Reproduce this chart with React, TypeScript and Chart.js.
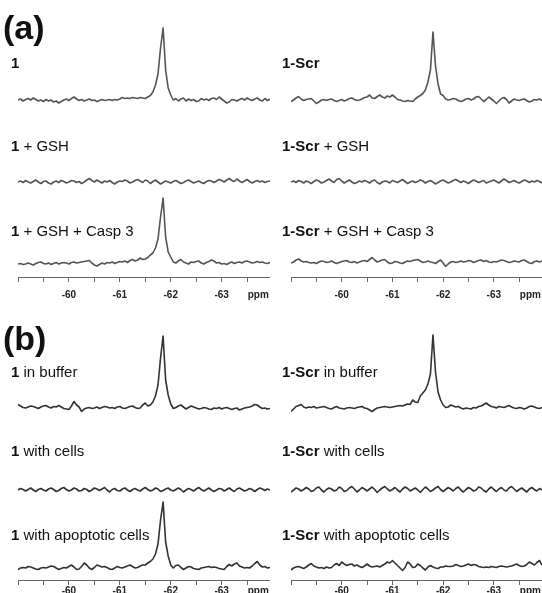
import React, { useEffect, useRef } from 'react';
import { Chart, registerables } from 'chart.js';

Chart.register(...registerables);

// chemical shift grid (ppm)
const PPM = [
  -59.0, -59.05, -59.1, -59.15, -59.2, -59.25, -59.3, -59.35, -59.4, -59.45,
  -59.5, -59.55, -59.6, -59.65, -59.7, -59.75, -59.8, -59.85, -59.9, -59.95,
  -60.0, -60.05, -60.1, -60.15, -60.2, -60.25, -60.3, -60.35, -60.4, -60.45,
  -60.5, -60.55, -60.6, -60.65, -60.7, -60.75, -60.8, -60.85, -60.9, -60.95,
  -61.0, -61.05, -61.1, -61.15, -61.2, -61.25, -61.3, -61.35, -61.4, -61.45,
  -61.5, -61.55, -61.6, -61.65, -61.7, -61.75, -61.8, -61.85, -61.9, -61.95,
  -62.0, -62.05, -62.1, -62.15, -62.2, -62.25, -62.3, -62.35, -62.4, -62.45,
  -62.5, -62.55, -62.6, -62.65, -62.7, -62.75, -62.8, -62.85, -62.9, -62.95,
  -63.0, -63.05, -63.1, -63.15, -63.2, -63.25, -63.3, -63.35, -63.4, -63.45,
  -63.5, -63.55, -63.6, -63.65, -63.7, -63.75, -63.8, -63.85, -63.9, -63.95,
];

const TICK_VALUES = [-59, -59.5, -60, -60.5, -61, -61.5, -62, -62.5, -63, -63.5, -63.72];
const TICK_LABELS = ['', '', '-60', '', '-61', '', '-62', '', '-63', '', 'ppm'];

const PANEL_TITLES = ['(a)', '(b)'];
const COMPOUNDS = ['1', '1-Scr'];
const CONDITIONS_A = ['', ' + GSH', ' + GSH + Casp 3'];
const CONDITIONS_B = [' in buffer', ' with cells', ' with apoptotic cells'];

// (a) compound 1
const A1 = [
  0.0, 0.1, -0.1, 0.05, 0.15, 0.0, 0.2, 0.05, -0.1, 0.0,
  -0.15, 0.05, -0.1, 0.0, -0.2, -0.1, -0.3, -0.15, 0.0, 0.1,
  -0.05, 0.15, 0.3, 0.1, -0.05, 0.05, -0.1, 0.0, 0.1, -0.05,
  0.0, -0.15, -0.05, 0.05, -0.05, 0.0, 0.05, -0.05, 0.05, 0.0,
  0.1, 0.25, 0.15, 0.2, 0.15, 0.25, 0.2, 0.15, 0.25, 0.2,
  0.15, 0.3, 0.45, 0.8, 1.5, 2.6, 5.2, 7.2, 3.0, 1.2,
  0.5, 0.0, 0.15, -0.1, 0.1, 0.2, -0.1, 0.1, -0.05, 0.05,
  -0.15, -0.1, 0.15, 0.0, 0.1, -0.05, 0.15, 0.2, 0.05, 0.3,
  0.1, -0.1, -0.3, -0.2, 0.05, 0.0, -0.1, 0.05, 0.15, 0.0,
  0.2, 0.05, -0.05, 0.1, 0.2, 0.0, -0.1, 0.15, -0.05, 0.1,
];
const A2 = [
  0.0, 0.1, -0.05, 0.15, 0.0, -0.1, 0.05, 0.2, 0.0, -0.15,
  0.05, 0.1, -0.1, -0.2, 0.0, 0.1, -0.05, 0.15, 0.05, -0.1,
  0.0, 0.15, 0.1, -0.05, 0.05, -0.15, 0.0, 0.2, 0.35, 0.15,
  0.0, 0.2, 0.05, -0.1, 0.1, 0.0, 0.15, -0.05, -0.2, 0.0,
  0.1, 0.05, 0.2, 0.1, -0.1, 0.0, 0.15, 0.25, 0.1, -0.05,
  0.2, 0.1, -0.15, 0.05, 0.2, 0.0, -0.2, -0.05, 0.1, 0.0,
  -0.1, 0.05, 0.15, 0.0, -0.15, -0.05, 0.1, 0.2, 0.05, -0.1,
  0.0, 0.1, -0.05, -0.15, 0.05, 0.15, 0.1, -0.05, 0.1, 0.25,
  0.15, 0.0, 0.2, 0.35, 0.15, 0.05, 0.3, 0.1, -0.05, 0.1,
  0.25, 0.05, -0.1, 0.05, 0.15, 0.0, 0.1, -0.05, 0.05, 0.1,
];
const A3 = [
  -0.1, -0.05, -0.15, -0.1, 0.0, -0.1, -0.2, -0.05, 0.05, 0.1,
  -0.05, -0.1, 0.0, -0.15, -0.05, 0.05, -0.1, 0.0, 0.05, 0.0,
  -0.1, 0.05, 0.1, 0.0, 0.05, 0.1, 0.15, 0.2, 0.25, 0.0,
  -0.2, -0.3, -0.15, 0.0, -0.1, 0.05, 0.0, 0.1, -0.05, 0.05,
  0.15, 0.1, 0.2, 0.05, 0.25, 0.35, 0.2, 0.3, 0.5, 0.35,
  0.4, 0.55, 0.8, 1.0, 1.5, 2.4, 4.6, 6.5, 2.6, 1.1,
  0.6, 0.1, 0.0, 0.2, 0.35, 0.1, 0.0, -0.1, 0.1, 0.05,
  0.15, 0.2, 0.0, -0.1, 0.05, 0.15, 0.3, 0.2, 0.0, 0.05,
  -0.1, -0.05, -0.15, 0.0, 0.1, -0.05, 0.05, 0.1, 0.0, 0.15,
  0.2, 0.1, 0.0, 0.05, 0.15, 0.05, 0.1, 0.0, -0.05, 0.05,
];
// (a) compound 1-Scr
const B1 = [
  -0.15, 0.0, 0.2, 0.35, 0.1, -0.05, 0.05, 0.1, 0.15, -0.1,
  -0.35, -0.2, 0.0, 0.05, -0.05, 0.05, 0.1, -0.05, -0.15, -0.05,
  0.05, -0.1, 0.0, 0.15, 0.2, 0.05, -0.05, 0.0, 0.1, 0.25,
  0.3, 0.5, 0.2, 0.15, 0.35, 0.5, 0.3, 0.2, 0.4, 0.3,
  0.5, 0.3, 0.05, 0.0, -0.1, -0.15, -0.05, -0.1, -0.15, 0.1,
  0.3, 0.45, 0.65, 1.0, 1.8, 3.0, 6.8, 3.4, 1.6, 0.6,
  0.45, 0.1, 0.0, 0.05, 0.15, 0.1, -0.05, -0.15, -0.05, 0.1,
  0.15, 0.0, 0.1, 0.3, 0.35, 0.1, -0.15, 0.05, 0.3, 0.1,
  -0.1, -0.35, -0.1, 0.15, 0.25, 0.05, -0.3, -0.1, 0.1, 0.0,
  -0.05, 0.05, 0.1, -0.05, -0.2, -0.1, 0.05, 0.0, 0.1, -0.05,
];
const B2 = [
  0.0, 0.1, -0.05, 0.15, 0.05, -0.1, 0.1, 0.0, -0.15, 0.05,
  0.2, 0.1, -0.1, 0.0, 0.15, 0.3, 0.1, -0.05, 0.25, 0.35,
  0.1, -0.1, 0.05, 0.2, 0.0, -0.15, -0.05, 0.1, 0.0, 0.15,
  0.05, -0.1, 0.1, 0.2, -0.05, -0.2, 0.0, 0.1, 0.05, -0.1,
  0.15, 0.05, -0.05, 0.1, 0.25, 0.05, -0.15, 0.0, 0.1, -0.05,
  0.05, 0.2, 0.1, -0.1, 0.05, 0.15, 0.0, -0.2, -0.05, 0.1,
  0.2, 0.05, -0.1, 0.0, 0.15, 0.25, 0.1, -0.05, 0.1, 0.0,
  -0.15, 0.05, 0.2, 0.1, -0.05, 0.05, 0.15, -0.1, 0.0, 0.1,
  0.2, 0.05, -0.1, 0.1, 0.3, 0.15, -0.05, 0.05, 0.15, 0.0,
  -0.1, 0.05, 0.2, 0.1, -0.05, 0.1, 0.0, 0.15, 0.05, -0.1,
];
const B3 = [
  -0.1, 0.0, 0.2, 0.3, 0.1, 0.0, 0.05, -0.05, -0.1, -0.05,
  -0.15, 0.0, 0.1, 0.05, -0.05, 0.0, 0.1, -0.05, -0.15, -0.05,
  0.05, 0.1, 0.15, 0.0, -0.05, 0.05, -0.1, 0.0, 0.1, 0.15,
  0.05, 0.25, 0.45, 0.2, 0.0, 0.1, 0.2, 0.25, 0.0, -0.15,
  -0.1, 0.05, 0.0, -0.1, -0.15, 0.0, 0.1, 0.05, 0.15, 0.2,
  0.25, 0.1, -0.05, 0.0, 0.1, 0.0, -0.05, -0.15, 0.05, 0.2,
  -0.1, -0.45, -0.2, 0.0, 0.05, -0.05, 0.0, 0.1, 0.0, 0.05,
  0.15, 0.1, -0.05, 0.05, 0.15, 0.2, 0.05, 0.15, 0.0, -0.05,
  0.05, 0.0, 0.1, 0.2, 0.15, 0.05, -0.05, 0.0, 0.1, 0.05,
  0.0, 0.15, 0.2, 0.05, -0.1, -0.15, 0.05, 0.1, 0.0, 0.1,
];
// (b) compound 1
const C1 = [
  0.35, 0.2, 0.05, 0.0, 0.1, 0.2, 0.15, 0.05, -0.05, 0.1,
  0.2, 0.25, 0.1, 0.0, 0.15, 0.1, 0.25, 0.1, -0.05, -0.1,
  -0.15, 0.2, 0.65, 0.3, 0.1, -0.35, -0.1, 0.0, 0.05, -0.05,
  0.0, 0.1, -0.05, 0.05, 0.15, 0.1, 0.0, 0.05, -0.05, 0.1,
  0.15, 0.0, -0.05, 0.05, 0.15, 0.2, 0.05, -0.05, 0.0, 0.3,
  0.5, 0.2, 0.3, 0.6, 1.2, 2.3, 5.0, 7.2, 2.8, 1.3,
  0.4, -0.05, 0.05, 0.2, 0.3, 0.1, -0.1, 0.05, 0.2, 0.1,
  0.0, -0.1, -0.05, 0.05, 0.0, -0.1, -0.15, 0.0, -0.05, 0.05,
  -0.1, 0.0, 0.05, -0.05, -0.15, -0.05, 0.0, -0.2, -0.1, 0.0,
  0.05, 0.1, 0.2, 0.35, 0.3, 0.1, -0.05, 0.0, -0.1, -0.05,
];
const C2 = [
  0.0, 0.15, 0.05, -0.1, 0.05, 0.2, 0.0, -0.15, 0.05, 0.15,
  0.0, -0.1, 0.1, 0.2, 0.05, -0.15, -0.05, 0.15, 0.25, 0.05,
  -0.1, 0.0, 0.2, 0.1, -0.1, -0.05, 0.15, 0.05, -0.15, 0.0,
  0.2, 0.1, -0.05, 0.1, 0.25, 0.0, -0.2, 0.05, 0.15, -0.05,
  -0.1, 0.1, 0.2, 0.0, -0.15, 0.05, 0.15, 0.0, -0.1, 0.1,
  0.25, 0.05, -0.1, 0.0, 0.2, 0.1, -0.15, -0.05, 0.1, 0.2,
  0.0, -0.1, 0.05, 0.2, 0.05, -0.2, 0.0, 0.15, 0.05, -0.1,
  0.1, 0.25, 0.05, -0.1, 0.05, 0.2, 0.0, -0.15, 0.0, 0.15,
  0.1, -0.1, 0.05, 0.2, 0.0, -0.15, 0.1, 0.2, 0.05, -0.1,
  0.0, 0.15, 0.05, -0.15, 0.05, 0.2, 0.1, -0.05, 0.1, 0.0,
];
const C3 = [
  -0.15, 0.0, 0.05, 0.0, 0.15, 0.1, 0.0, -0.1, -0.15, 0.0,
  0.05, 0.0, 0.1, 0.2, 0.15, 0.0, -0.15, -0.05, 0.05, 0.0,
  0.15, 0.3, 0.1, -0.15, -0.1, 0.15, 0.5, 0.3, 0.0, -0.15,
  0.05, 0.3, 0.2, 0.1, 0.15, 0.05, -0.1, -0.15, 0.0, 0.15,
  0.05, 0.0, 0.1, 0.2, 0.3, 0.15, 0.0, 0.05, 0.2, 0.3,
  0.3, 0.5, 0.65, 0.9, 1.4, 2.4, 4.8, 6.6, 2.6, 1.2,
  0.3, 0.0, 0.25, 0.3, 0.05, -0.15, 0.0, 0.15, 0.1, -0.05,
  -0.1, -0.15, 0.0, 0.05, 0.1, 0.15, 0.05, 0.1, 0.05, -0.05,
  -0.1, -0.15, 0.15, 0.35, 0.2, 0.4, 0.5, 0.2, 0.1, 0.0,
  0.05, 0.0, 0.2, 0.45, 0.65, 0.3, 0.1, 0.15, 0.0, 0.05,
];
// (b) compound 1-Scr
const D1 = [
  -0.35, -0.1, 0.15, 0.25, 0.35, 0.1, 0.0, 0.1, 0.05, 0.15,
  0.0, 0.05, 0.1, 0.15, 0.05, -0.05, -0.1, 0.05, 0.15, 0.0,
  -0.05, -0.1, 0.0, 0.05, 0.0, -0.05, 0.05, 0.1, 0.15, 0.0,
  -0.05, -0.2, -0.35, -0.15, 0.0, 0.05, 0.1, 0.15, 0.1, 0.05,
  0.1, 0.15, 0.2, 0.25, 0.2, 0.3, 0.4, 0.35, 0.8, 0.6,
  0.55, 1.2, 1.5, 1.8, 2.4, 3.4, 7.3, 3.6, 1.6, 0.8,
  0.3, 0.05, 0.1, 0.3, 0.2, 0.1, 0.15, 0.0, -0.1, 0.0,
  -0.05, -0.1, 0.05, 0.0, 0.15, 0.2, 0.35, 0.5, 0.3, 0.15,
  0.1, 0.0, 0.15, 0.1, 0.05, 0.15, 0.25, 0.1, 0.0, -0.05,
  0.05, 0.0, -0.1, 0.0, 0.15, 0.2, 0.1, 0.0, -0.05, 0.05,
];
const D2 = [
  -0.2, 0.0, 0.2, 0.1, -0.1, 0.05, 0.25, 0.1, -0.15, -0.05,
  0.2, 0.3, 0.0, -0.2, 0.05, 0.2, 0.1, -0.1, 0.0, 0.3,
  0.15, -0.15, -0.05, 0.2, 0.35, 0.1, -0.2, 0.0, 0.25, 0.1,
  -0.1, 0.1, 0.3, 0.05, -0.25, 0.0, 0.2, 0.35, 0.1, -0.1,
  0.05, 0.25, 0.0, -0.2, 0.1, 0.3, 0.15, -0.1, 0.05, 0.2,
  0.0, -0.25, 0.05, 0.3, 0.1, -0.15, 0.0, 0.2, 0.35, 0.05,
  -0.15, 0.05, 0.25, 0.1, -0.1, 0.15, 0.3, 0.0, -0.2, 0.05,
  0.25, 0.1, -0.1, 0.0, 0.3, 0.2, -0.05, -0.2, 0.1, 0.3,
  0.05, -0.15, 0.1, 0.25, 0.0, -0.1, 0.2, 0.35, 0.1, -0.15,
  0.05, 0.2, 0.0, -0.2, 0.1, 0.25, 0.05, -0.1, 0.15, 0.0,
];
const D3 = [
  -0.3, -0.1, 0.0, 0.05, -0.05, -0.15, 0.0, 0.2, 0.35, 0.1,
  0.0, -0.1, -0.05, -0.15, 0.0, -0.1, -0.05, 0.2, 0.35, 0.15,
  0.5, 0.3, 0.15, 0.25, 0.3, 0.1, 0.2, 0.05, -0.05, 0.1,
  0.3, 0.1, 0.0, 0.05, 0.1, 0.0, 0.15, 0.3, 0.5, 0.4,
  0.65, 0.4, 0.15, -0.1, -0.35, -0.05, 0.5, 0.3, -0.05, 0.0,
  0.3, 0.15, -0.1, -0.3, 0.0, 0.15, 0.0, -0.1, -0.15, 0.0,
  0.0, 0.1, 0.05, 0.05, 0.1, 0.25, 0.15, 0.05, 0.1, 0.2,
  0.3, 0.15, 0.25, 0.2, 0.05, 0.0, -0.05, 0.0, -0.05, 0.05,
  0.0, -0.05, 0.05, 0.1, 0.05, 0.0, 0.05, 0.1, 0.2, 0.3,
  0.15, 0.05, 0.1, 0.25, 0.5, 0.35, 0.2, 0.45, 0.65, 0.2,
];

const FONT = '"Liberation Sans", Arial, Helvetica, sans-serif';
const UNIT = 10; // px per intensity unit
const Y_MAX = 8;
const TICK_LEN = 5;
const TICK_FONT = 10;

type SpecProps = {
  values: number[];
  left: number;
  width: number;
  baseline: number;
  axisY?: number;
  labelLH?: number; // tick label line height (px)
  color: string;
};

function Spectrum({ values, left, width, baseline, axisY, labelLH = 26, color }: SpecProps) {
  const ref = useRef<HTMLCanvasElement | null>(null);
  const yMin = axisY ? -(axisY - baseline) / UNIT : -1;
  const areaH = (Y_MAX - yMin) * UNIT;
  const height = Math.round(areaH + (axisY ? TICK_LEN + labelLH : 0));
  const top = baseline - Y_MAX * UNIT;

  useEffect(() => {
    if (!ref.current) return;
    const chart = new Chart(ref.current, {
      type: 'line',
      data: {
        datasets: [
          {
            data: values.map((v, i) => ({ x: PPM[i], y: v })),
            borderColor: color,
            borderWidth: 1.6,
            pointRadius: 0,
            tension: 0,
            fill: false,
            borderJoinStyle: 'round',
          },
        ],
      },
      options: {
        animation: false,
        responsive: false,
        maintainAspectRatio: false,
        events: [],
        layout: { padding: 0, autoPadding: false },
        plugins: {
          legend: { display: false },
          tooltip: { enabled: false },
          title: { display: false },
        },
        scales: {
          x: {
            type: 'linear',
            reverse: true,
            min: -63.95,
            max: -59,
            display: !!axisY,
            afterBuildTicks: (scale: any) => {
              scale.ticks = TICK_VALUES.map((v) => ({ value: v }));
            },
            ticks: {
              autoSkip: false,
              maxRotation: 0,
              minRotation: 0,
              padding: 0,
              color: '#222',
              font: { family: FONT, size: TICK_FONT, weight: 'bold', lineHeight: labelLH / TICK_FONT },
              callback: (_v: any, i: number) => TICK_LABELS[i],
            },
            grid: {
              drawOnChartArea: false,
              drawTicks: true,
              tickLength: TICK_LEN,
              color: (ctx: any) => (ctx.index === TICK_LABELS.length - 1 ? 'rgba(0,0,0,0)' : '#666'),
            },
            border: { display: true, color: '#666', width: 1 },
          },
          y: { display: false, min: yMin, max: Y_MAX },
        },
      } as any,
    });
    return () => chart.destroy();
  }, []);

  return (
    <canvas
      ref={ref}
      width={width}
      height={height}
      style={{ position: 'absolute', left, top, width, height }}
    />
  );
}

function Label({ x, y, bold, rest }: { x: number; y: number; bold: string; rest: string }) {
  return (
    <div
      style={{
        position: 'absolute',
        left: x,
        top: y - 9,
        fontSize: 15,
        lineHeight: '18px',
        whiteSpace: 'nowrap',
        color: '#111',
      }}
    >
      <b>{bold}</b>
      {rest}
    </div>
  );
}

const LX = 18;
const LW = 252;
const RX = 291;
const RW = 251;
const CA = '#555';
const CB = '#333';

export default function App() {
  const panels: SpecProps[] = [
    { values: A1, left: LX, width: LW, baseline: 100, color: CA },
    { values: A2, left: LX, width: LW, baseline: 182, color: CA },
    { values: A3, left: LX, width: LW, baseline: 263, axisY: 277, labelLH: 26, color: CA },
    { values: B1, left: RX, width: RW, baseline: 100, color: CA },
    { values: B2, left: RX, width: RW, baseline: 182, color: CA },
    { values: B3, left: RX, width: RW, baseline: 262, axisY: 277, labelLH: 26, color: CA },
    { values: C1, left: LX, width: LW, baseline: 408, color: CB },
    { values: C2, left: LX, width: LW, baseline: 490, color: CB },
    { values: C3, left: LX, width: LW, baseline: 568, axisY: 580, labelLH: 13, color: CB },
    { values: D1, left: RX, width: RW, baseline: 408, color: CB },
    { values: D2, left: RX, width: RW, baseline: 490, color: CB },
    { values: D3, left: RX, width: RW, baseline: 567, axisY: 580, labelLH: 13, color: CB },
  ];
  const rowsA = [63, 146, 231];
  const rowsB = [372, 451, 535];
  return (
    <div
      style={{
        position: 'absolute',
        left: 0,
        top: 0,
        width: 542,
        height: 593,
        overflow: 'hidden',
        background: '#fff',
        fontFamily: FONT,
      }}
    >
      {panels.map((p, i) => (
        <Spectrum key={i} {...p} />
      ))}
      <div style={{ position: 'absolute', left: 3, top: 10, fontSize: 34, lineHeight: '34px', fontWeight: 'bold', color: '#111' }}>
        {PANEL_TITLES[0]}
      </div>
      <div style={{ position: 'absolute', left: 3, top: 321, fontSize: 34, lineHeight: '34px', fontWeight: 'bold', color: '#111' }}>
        {PANEL_TITLES[1]}
      </div>
      {CONDITIONS_A.map((c, i) => (
        <Label key={'al' + i} x={11} y={rowsA[i]} bold={COMPOUNDS[0]} rest={c} />
      ))}
      {CONDITIONS_A.map((c, i) => (
        <Label key={'ar' + i} x={282} y={rowsA[i]} bold={COMPOUNDS[1]} rest={c} />
      ))}
      {CONDITIONS_B.map((c, i) => (
        <Label key={'bl' + i} x={11} y={rowsB[i]} bold={COMPOUNDS[0]} rest={c} />
      ))}
      {CONDITIONS_B.map((c, i) => (
        <Label key={'br' + i} x={282} y={rowsB[i]} bold={COMPOUNDS[1]} rest={c} />
      ))}
    </div>
  );
}
